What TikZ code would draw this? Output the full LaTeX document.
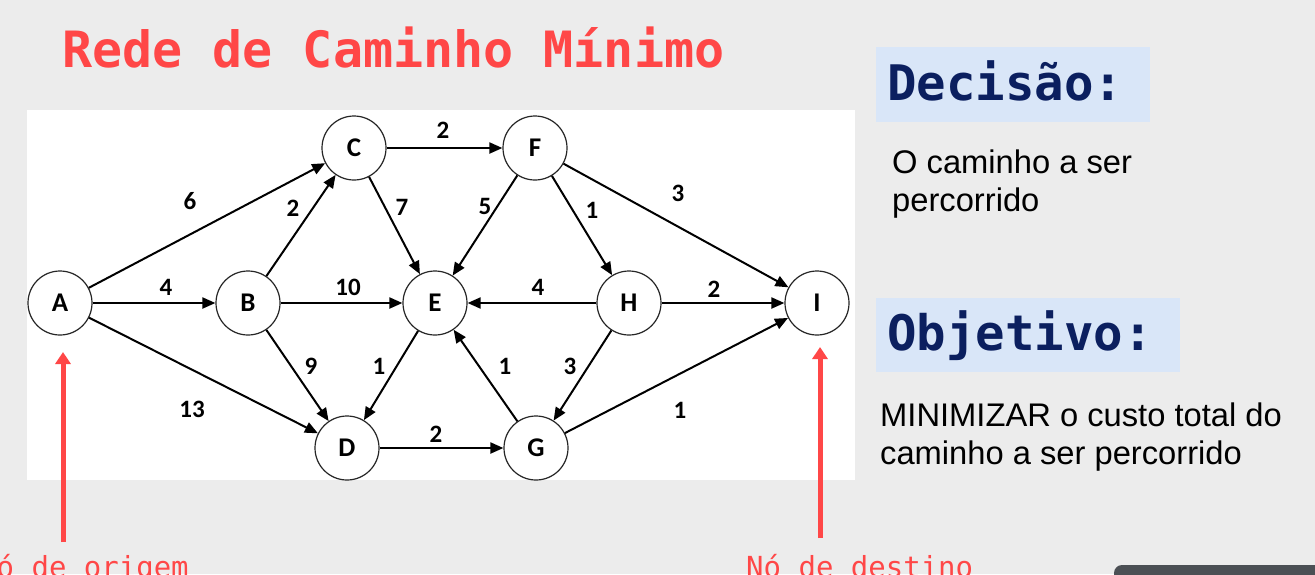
\documentclass[tikz,border=0pt]{standalone}
\usepackage{fontspec}
\setmainfont{Liberation Sans}
\newfontfamily\monofont{DejaVu Sans Mono}
\newfontfamily\calfont{Carlito}
\usetikzlibrary{arrows.meta}
\definecolor{bgcol}{HTML}{ECECEC}
\definecolor{titlered}{HTML}{FF4747}
\definecolor{navy}{HTML}{0B1F5F}
\definecolor{boxblue}{HTML}{D9E6F8}
\definecolor{darkbar}{HTML}{4B4F54}
\begin{document}
\begin{tikzpicture}[x=1pt,y=-1pt,
  vertex/.style={circle,draw=black!85,line width=1.2pt,fill=white,minimum size=64pt,inner sep=0pt,
    font=\calfont\bfseries\fontsize{27}{27}\selectfont},
  wlabel/.style={font=\calfont\bfseries\fontsize{25}{25}\selectfont,inner sep=0pt},
  edge/.style={line width=2pt,-{Triangle[length=13pt,width=11pt]}},
  pointer/.style={titlered,line width=5pt,-{Triangle[length=12pt,width=15pt]}},
  heading/.style={anchor=base west,inner sep=0pt,text=navy,font=\monofont\bfseries\fontsize{49}{49}\selectfont},
  bodytext/.style={anchor=base west,inner sep=0pt,font=\fontsize{32.7}{32.7}\selectfont},
  tag/.style={anchor=base west,inner sep=0pt,text=titlered,font=\monofont\fontsize{29}{29}\selectfont}]
\useasboundingbox (0,0) rectangle (1315,574);
\fill[bgcol] (0,0) rectangle (1315,574);
\fill[white] (27,110) rectangle (855,480);
\fill[boxblue] (876,47) rectangle (1150,122);
\fill[boxblue] (876,298) rectangle (1180,372);
\fill[darkbar,rounded corners=8pt] (1114,565) rectangle (1330,600);

\node[anchor=base west,inner sep=0pt,text=titlered,font=\monofont\bfseries\fontsize{50}{50}\selectfont]
  (title) at (62,67) {Rede de Caminho Mínimo};

\node[vertex] (A) at (60,303) {A};
\node[vertex] (B) at (248,303) {B};
\node[vertex] (C) at (354,148) {C};
\node[vertex] (D) at (347,448) {D};
\node[vertex] (E) at (435,303) {E};
\node[vertex] (F) at (535,148) {F};
\node[vertex] (G) at (536,448) {G};
\node[vertex] (H) at (629,303) {H};
\node[vertex] (I) at (817,303) {I};

\draw[edge] (A) -- (C);
\draw[edge] (A) -- (B);
\draw[edge] (A) -- (D);
\draw[edge] (B) -- (C);
\draw[edge] (B) -- (E);
\draw[edge] (B) -- (D);
\draw[edge] (C) -- (F);
\draw[edge] (C) -- (E);
\draw[edge] (F) -- (E);
\draw[edge] (F) -- (H);
\draw[edge] (F) -- (I);
\draw[edge] (H) -- (E);
\draw[edge] (H) -- (I);
\draw[edge] (E) -- (D);
\draw[edge] (G) -- (E);
\draw[edge] (H) -- (G);
\draw[edge] (D) -- (G);
\draw[edge] (G) -- (I);

\node[wlabel] (wAC) at (190,201) {6};
\node[wlabel] (wAB) at (166,287) {4};
\node[wlabel] (wAD) at (192,409) {13};
\node[wlabel] (wBC) at (293,208) {2};
\node[wlabel] (wBE) at (348,287) {10};
\node[wlabel] (wBD) at (311,366) {9};
\node[wlabel] (wCF) at (443,130) {2};
\node[wlabel] (wCE) at (402,207) {7};
\node[wlabel] (wFE) at (485,206) {5};
\node[wlabel] (wFH) at (592,210) {1};
\node[wlabel] (wFI) at (678,193) {3};
\node[wlabel] (wHE) at (538,287) {4};
\node[wlabel] (wHI) at (714,289) {2};
\node[wlabel] (wED) at (379,366) {1};
\node[wlabel] (wGE) at (505,366) {1};
\node[wlabel] (wHG) at (570,366) {3};
\node[wlabel] (wDG) at (436,434) {2};
\node[wlabel] (wGI) at (680,410) {1};

\node[heading] (dec) at (887,100) {Decisão:};
\node[bodytext] (dec1) at (892,173) {O caminho a ser};
\node[bodytext] (dec2) at (892,211) {percorrido};
\node[heading] (obj) at (887,350) {Objetivo:};
\node[bodytext] (obj1) at (880,426) {MINIMIZAR o custo total do};
\node[bodytext] (obj2) at (880,464) {caminho a ser percorrido};

\coordinate (origBase) at (63,542);
\coordinate (origTip) at (63,352);
\coordinate (destBase) at (820,538);
\coordinate (destTip) at (820,347);
\draw[pointer] (origBase) -- (origTip);
\draw[pointer] (destBase) -- (destTip);
\node[tag] (orig) at (-21,577) {Nó de origem};
\node[tag] (dest) at (746,577) {Nó de destino};
\end{tikzpicture}
\end{document}
